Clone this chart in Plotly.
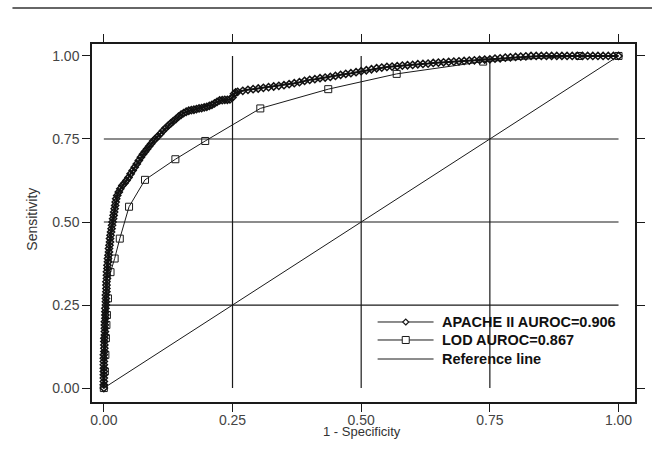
import plotly.graph_objects as go

# APACHE II ROC curve (1 - specificity, sensitivity)
apache_fpr = [
    0.0, 0.0, 0.0, 0.0, 0.0, 0.0, 0.0, 0.0, 0.0, 0.0, 0.0,
    0.001, 0.001, 0.001, 0.001, 0.001, 0.002, 0.002, 0.002, 0.002, 0.002,
    0.003, 0.003, 0.003, 0.003, 0.004, 0.004, 0.004, 0.004, 0.005, 0.005,
    0.005, 0.005, 0.006, 0.006, 0.006, 0.007, 0.007, 0.008, 0.008, 0.009,
    0.010, 0.010, 0.011, 0.012, 0.012, 0.013, 0.014, 0.015, 0.016, 0.017,
    0.018, 0.019, 0.020, 0.021, 0.022, 0.023, 0.024, 0.026, 0.029, 0.032,
    0.036, 0.040, 0.044, 0.048, 0.052, 0.056, 0.060, 0.064, 0.068, 0.072,
    0.076, 0.080, 0.084, 0.088, 0.092, 0.096, 0.100,
    0.105, 0.110, 0.115, 0.120, 0.125, 0.130, 0.135, 0.140, 0.145, 0.150,
    0.155, 0.160, 0.165, 0.170, 0.175, 0.180, 0.185, 0.190, 0.195, 0.200,
    0.205, 0.210, 0.215, 0.220, 0.225, 0.230, 0.235, 0.240, 0.245, 0.250,
    0.253, 0.256,
    0.26, 0.27, 0.28, 0.29, 0.30, 0.31, 0.32, 0.33, 0.34, 0.35,
    0.36, 0.37, 0.38, 0.39, 0.40, 0.41, 0.42, 0.43, 0.44, 0.45,
    0.46, 0.47, 0.48, 0.49, 0.50, 0.51, 0.52, 0.53, 0.54, 0.55,
    0.56, 0.57, 0.58, 0.59, 0.60, 0.61, 0.62, 0.63, 0.64, 0.65,
    0.66, 0.67, 0.68, 0.69, 0.70, 0.71, 0.72, 0.73, 0.74, 0.75,
    0.76, 0.77, 0.78, 0.79, 0.80, 0.81, 0.82, 0.83, 0.84, 0.85,
    0.86, 0.87, 0.88, 0.89, 0.90, 0.91, 0.92, 0.93, 0.94, 0.95,
    0.96, 0.97, 0.98, 0.99, 1.0,
]
apache_tpr = [
    0.00, 0.01, 0.02, 0.03, 0.04, 0.05, 0.06, 0.07, 0.08, 0.09, 0.10,
    0.11, 0.12, 0.13, 0.14, 0.15, 0.16, 0.17, 0.18, 0.19, 0.20,
    0.21, 0.22, 0.23, 0.24, 0.25, 0.26, 0.27, 0.28, 0.29, 0.30,
    0.31, 0.32, 0.33, 0.34, 0.35, 0.36, 0.37, 0.38, 0.39, 0.40,
    0.41, 0.42, 0.43, 0.44, 0.45, 0.46, 0.47, 0.48, 0.49, 0.50,
    0.51, 0.52, 0.53, 0.54, 0.55, 0.56, 0.57, 0.58, 0.59, 0.60,
    0.61, 0.617, 0.625, 0.634, 0.645, 0.655, 0.665, 0.675, 0.685, 0.695,
    0.704, 0.712, 0.72, 0.728, 0.736, 0.744, 0.75,
    0.758, 0.766, 0.775, 0.783, 0.79, 0.797, 0.804, 0.81, 0.817, 0.823,
    0.828, 0.832, 0.835, 0.837, 0.838, 0.84, 0.842, 0.843, 0.845, 0.847,
    0.85, 0.853, 0.857, 0.862, 0.866, 0.867, 0.868, 0.868, 0.869, 0.875,
    0.886, 0.89,
    0.892, 0.895, 0.898, 0.90, 0.902, 0.904, 0.906, 0.908, 0.91, 0.912,
    0.915, 0.918, 0.921, 0.925, 0.928, 0.93, 0.933, 0.935, 0.937, 0.94,
    0.943, 0.946, 0.948, 0.951, 0.954, 0.957, 0.96, 0.963, 0.965, 0.967,
    0.968, 0.969, 0.971, 0.972, 0.973, 0.975, 0.976, 0.977, 0.979, 0.98,
    0.981, 0.982, 0.983, 0.984, 0.985, 0.986, 0.987, 0.988, 0.989, 0.99,
    0.992, 0.993, 0.995, 0.996, 0.997, 0.998, 0.999, 1.0, 1.0, 1.0,
    1.0, 1.0, 1.0, 1.0, 1.0, 1.0, 1.0, 1.0, 1.0, 1.0,
    1.0, 1.0, 1.0, 1.0, 1.0,
]

# LOD ROC curve
lod_fpr = [0.0, 0.002, 0.003, 0.004, 0.005, 0.006, 0.008, 0.013, 0.021, 0.031, 0.049, 0.080,
           0.139, 0.197, 0.304, 0.436, 0.569, 0.737, 0.924, 1.0]
lod_tpr = [0.0, 0.05, 0.10, 0.15, 0.19, 0.22, 0.27, 0.349, 0.39, 0.45, 0.546, 0.627,
           0.689, 0.744, 0.842, 0.90, 0.946, 0.983, 1.0, 1.0]

ref_x = [0, 1]
ref_y = [0, 1]

series_names = ['APACHE II AUROC=0.906', 'LOD AUROC=0.867', 'Reference line']
tick_vals = [0, 0.25, 0.5, 0.75, 1]
tick_text = ['0.00', '0.25', '0.50', '0.75', '1.00']
grid_vals = [0.25, 0.5, 0.75]

INK = '#1a1a1a'
FONT = 'Liberation Sans, Arial, sans-serif'

fig = go.Figure()

fig.add_trace(go.Scatter(
    x=ref_x, y=ref_y, mode='lines', showlegend=False,
    line=dict(color=INK, width=1)
))
fig.add_trace(go.Scatter(
    x=lod_fpr, y=lod_tpr, mode='lines+markers', showlegend=False,
    line=dict(color=INK, width=1),
    marker=dict(symbol='square-open', size=7, color=INK, line=dict(width=1))
))
fig.add_trace(go.Scatter(
    x=apache_fpr, y=apache_tpr, mode='lines+markers', showlegend=False,
    line=dict(color='#111', width=2),
    marker=dict(symbol='diamond-open', size=5.5, color='#111', line=dict(width=1.5))
))

# grid lines only span the 0..1 data box
shapes = []
for g in grid_vals:
    shapes.append(dict(type='line', xref='x', yref='y', x0=g, x1=g, y0=0, y1=1,
                       line=dict(color=INK, width=1.2), layer='below'))
    shapes.append(dict(type='line', xref='x', yref='y', x0=0, x1=1, y0=g, y1=g,
                       line=dict(color=INK, width=1.2), layer='below'))

# legend box (white, hides the grid behind it)
shapes.append(dict(type='rect', xref='paper', yref='paper', x0=0.517, x1=0.928, y0=0.084, y1=0.251,
                   fillcolor='white', line=dict(width=0), layer='below'))
leg_y = [0.2235, 0.1732, 0.1201]
for yy in leg_y:
    shapes.append(dict(type='line', xref='paper', yref='paper', x0=0.526, x1=0.629, y0=yy, y1=yy,
                       line=dict(color=INK, width=1)))
shapes.append(dict(type='path', xref='paper', yref='paper', xsizemode='pixel', ysizemode='pixel',
                   xanchor=0.5778, yanchor=leg_y[0], path='M0,-3 L3,0 L0,3 L-3,0 Z',
                   fillcolor='white', line=dict(color=INK, width=1.2)))
shapes.append(dict(type='rect', xref='paper', yref='paper', xsizemode='pixel', ysizemode='pixel',
                   xanchor=0.5778, yanchor=leg_y[1], x0=-3.5, x1=3.5, y0=-3.5, y1=3.5,
                   fillcolor='white', line=dict(color=INK, width=1)))

# header rule at the top of the page
shapes.append(dict(type='line', xref='paper', yref='paper', x0=-0.1465, x1=1.2, y0=1.1006, y1=1.1006,
                   line=dict(color='#333', width=1.5)))

annotations = [
    dict(text=name, xref='paper', yref='paper', x=0.641, y=yy, xanchor='left', yanchor='middle',
         showarrow=False, font=dict(family=FONT, size=14.5, color='#111', weight='bold'))
    for name, yy in zip(series_names, leg_y)
]
annotations += [
    dict(text='1 - Specificity', xref='paper', yref='paper', x=0.497, y=-0.083,
         xanchor='center', yanchor='middle', showarrow=False,
         font=dict(family=FONT, size=13, color='#333')),
    dict(text='Sensitivity', xref='paper', yref='paper', x=-0.110, y=0.51,
         xanchor='center', yanchor='middle', showarrow=False, textangle=-90,
         font=dict(family=FONT, size=14, color='#333')),
]

axis_common = dict(
    tickvals=tick_vals, ticktext=tick_text, ticks='outside', ticklen=8, tickwidth=1.2,
    tickcolor=INK, showline=True, linecolor=INK, linewidth=1.5, mirror='allticks',
    showgrid=False, zeroline=False,
    tickfont=dict(family=FONT, size=14, color='#444')
)

fig.update_layout(
    width=652, height=473,
    margin=dict(l=92, r=7, t=44, b=71),
    paper_bgcolor='white', plot_bgcolor='white',
    shapes=shapes, annotations=annotations,
    xaxis=dict(range=[-0.023, 1.032], ticklabelstandoff=-4, **axis_common),
    yaxis=dict(range=[-0.042, 1.036], **axis_common),
    showlegend=False,
)

# drop the default page margin and any scrollbars so the figure fills the window
page_js = ("document.body.style.margin='0';"
           "document.body.style.overflow='hidden';"
           "document.documentElement.style.overflow='hidden';")
fig.write_html('out.html', config={'displayModeBar': False}, post_script=page_js)
